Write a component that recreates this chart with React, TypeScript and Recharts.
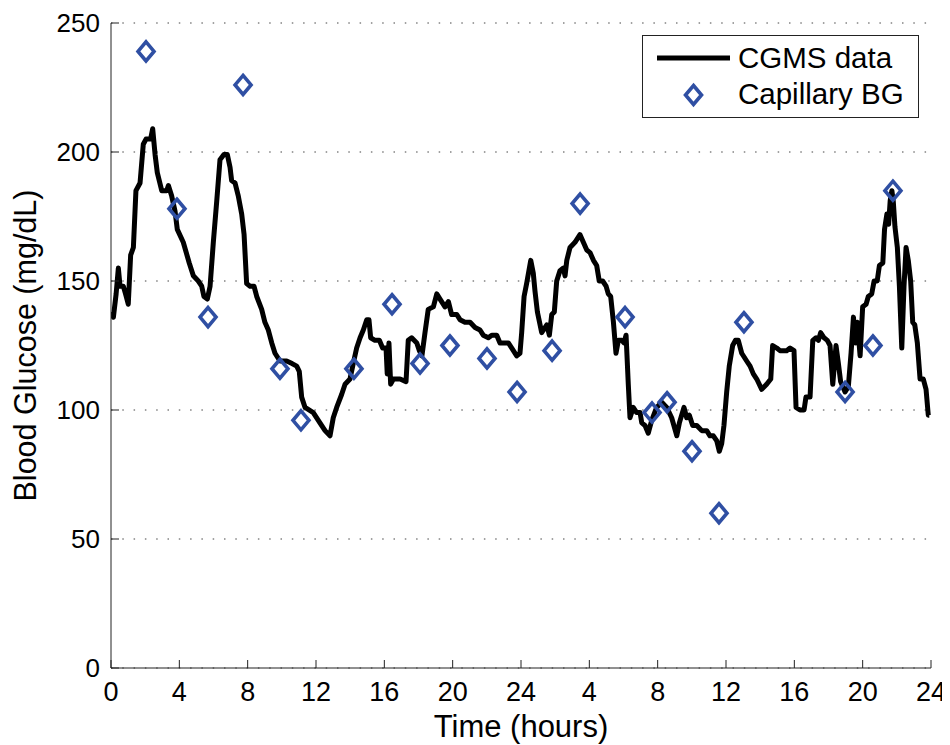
import React from 'react';
import { ComposedChart, Line, Scatter, XAxis, YAxis, CartesianGrid, Legend } from 'recharts';

const cgmsTime = [
  0.0, 0.14, 0.3, 0.43, 0.53, 0.72, 0.85, 1.01, 1.15, 1.31, 1.46, 1.7, 1.89, 2.05, 2.32, 2.44, 2.58, 2.71, 2.97, 3.26,
  3.36, 3.55, 3.75, 3.88, 4.23, 4.58, 4.82, 5.11, 5.31, 5.44, 5.64, 5.8, 5.99, 6.19, 6.38, 6.61, 6.81, 6.97, 7.06, 7.26,
  7.45, 7.65, 7.79, 7.94, 8.14, 8.37, 8.53, 8.82, 9.01, 9.21, 9.41, 9.6, 9.89, 10.28, 10.6, 10.87, 11.02, 11.16, 11.36, 11.84,
  12.23, 12.53, 12.82, 13.01, 13.21, 13.5, 13.7, 13.99, 14.18, 14.38, 14.58, 14.77, 14.97, 15.1, 15.2, 15.45, 15.71, 15.9, 16.1, 16.17,
  16.27, 16.37, 16.53, 16.92, 17.27, 17.4, 17.6, 17.9, 18.05, 18.2, 18.38, 18.57, 18.87, 19.07, 19.26, 19.55, 19.75, 19.94, 20.24, 20.43,
  20.72, 21.02, 21.31, 21.6, 21.79, 22.09, 22.29, 22.58, 22.77, 23.06, 23.26, 23.46, 23.75, 23.94, 24.04, 24.18, 24.33, 24.57, 24.72, 24.82,
  24.96, 25.21, 25.51, 25.66, 25.8, 25.95, 26.09, 26.28, 26.48, 26.58, 26.68, 26.87, 27.16, 27.45, 27.65, 27.85, 28.04, 28.24, 28.43, 28.58,
  28.78, 28.98, 29.11, 29.25, 29.41, 29.56, 29.7, 29.9, 30.03, 30.15, 30.28, 30.38, 30.57, 30.77, 30.97, 31.07, 31.26, 31.45, 31.65, 31.94,
  32.24, 32.53, 32.82, 33.12, 33.27, 33.54, 33.7, 33.85, 34.05, 34.29, 34.58, 34.87, 35.06, 35.26, 35.46, 35.61, 35.75, 35.88, 36.04, 36.19,
  36.39, 36.55, 36.72, 36.92, 37.21, 37.41, 37.6, 37.8, 38.09, 38.38, 38.62, 38.73, 38.97, 39.16, 39.55, 39.75, 39.98, 40.1, 40.33, 40.57,
  40.68, 40.92, 41.08, 41.27, 41.41, 41.54, 41.74, 41.93, 42.09, 42.25, 42.44, 42.58, 42.71, 42.97, 43.16, 43.32, 43.46, 43.6, 43.69, 43.85,
  44.0, 44.2, 44.33, 44.53, 44.67, 44.85, 44.98, 45.18, 45.28, 45.42, 45.52, 45.61, 45.71, 45.79, 45.89, 46.03, 46.15, 46.29, 46.42, 46.54,
  46.67, 46.81, 46.93, 47.05, 47.2, 47.36, 47.55, 47.71, 47.84, 47.9,
];

const cgmsGlucose = [
  138, 136, 145, 155, 148, 148, 145, 141, 160, 163, 185, 188, 203, 205, 205, 209, 199, 192, 185, 185,
  187, 183, 177, 170, 165, 157, 152, 150, 148, 144, 143, 148, 165, 181, 197, 199, 199, 194, 189, 188,
  183, 176, 168, 149, 148, 148, 144, 139, 134, 131, 126, 122, 119, 119, 118, 117, 115, 105, 101, 99,
  95, 92, 90, 97, 101, 106, 110, 112, 118, 124, 128, 131, 135, 135, 128, 127, 127, 124, 124, 114,
  126, 110, 112, 112, 111, 127, 128, 126, 123, 121, 130, 139, 140, 145, 143, 140, 142, 137, 137, 135,
  134, 134, 132, 131, 129, 128, 129, 129, 126, 126, 126, 124, 121, 122, 130, 144, 149, 158, 153, 146,
  138, 130, 133, 129, 137, 138, 150, 154, 155, 152, 158, 163, 165, 168, 165, 162, 161, 158, 156, 150,
  150, 148, 145, 144, 134, 122, 127, 127, 126, 129, 110, 97, 101, 99, 99, 95, 94, 91, 96, 101,
  103, 101, 97, 90, 95, 101, 97, 98, 94, 94, 92, 92, 90, 90, 88, 84, 87, 94, 107, 117,
  125, 127, 127, 122, 119, 117, 114, 112, 108, 110, 112, 125, 124, 123, 123, 124, 123, 101, 100, 100,
  105, 105, 127, 128, 127, 130, 128, 127, 125, 110, 125, 118, 111, 107, 109, 122, 136, 126, 134, 121,
  140, 141, 144, 145, 150, 150, 156, 157, 170, 176, 172, 181, 185, 181, 171, 163, 148, 124, 148, 163,
  158, 150, 134, 133, 126, 112, 112, 108, 98, 98,
];

const bgTime = [
  2.05, 3.86, 5.68, 7.73, 9.89, 11.12, 14.22, 16.45, 18.09, 19.84, 22.01, 23.77,
  25.82, 27.46, 30.09, 31.67, 32.55, 34.01, 35.59, 37.05, 42.97, 44.6, 45.77,
];
const bgGlucose = [
  239, 178, 136, 226, 116, 96, 116, 141, 118, 125, 120, 107,
  123, 180, 136, 99, 103, 84, 60, 134, 107, 125, 185,
];

const xTicks = [0, 4, 8, 12, 16, 20, 24, 28, 32, 36, 40, 44, 48];
const yTicks = [0, 50, 100, 150, 200, 250];

const cgmsData = cgmsTime.map((h, i) => ({ h, v: cgmsGlucose[i] }));
const bgData = bgTime.map((h, i) => ({ h, v: bgGlucose[i] }));

const FONT = '"Liberation Sans", Arial, Helvetica, sans-serif';
const BLUE = '#2F4FA3';

const formatHour = (v: number) => String(v > 24 ? v - 24 : v);

const Diamond = (props: any) => {
  const { cx, cy } = props;
  if (cx == null || cy == null) return null;
  return (
    <path
      d={`M${cx},${cy - 9.5} L${cx + 8},${cy} L${cx},${cy + 9.5} L${cx - 8},${cy} Z`}
      fill="none"
      stroke={BLUE}
      strokeWidth={3.6}
      strokeLinejoin="miter"
    />
  );
};

const LegendBox = () => (
  <svg width={278} height={84} style={{ display: 'block' }}>
    <rect x={0.5} y={0.5} width={276} height={82} fill="#fff" stroke="#222" strokeWidth={1} />
    <line x1={15} y1={23} x2={88} y2={23} stroke="#000" strokeWidth={5} />
    <text x={96} y={33} fontFamily={FONT} fontSize={29.5} fill="#000">CGMS data</text>
    <path d="M51.5,50.5 L59.5,60 L51.5,69.5 L43.5,60 Z" fill="none" stroke={BLUE} strokeWidth={3.6} />
    <text x={96} y={69} fontFamily={FONT} fontSize={29.5} fill="#000">Capillary BG</text>
  </svg>
);

const YLabel = (props: any) => {
  const { viewBox } = props;
  const x = viewBox.x + 17;
  const y = viewBox.y + viewBox.height / 2;
  return (
    <text
      x={x}
      y={y}
      transform={`rotate(-90, ${x}, ${y})`}
      textAnchor="middle"
      dominantBaseline="central"
      fontFamily={FONT}
      fontSize={30.5}
      fill="#000"
    >
      Blood Glucose (mg/dL)
    </text>
  );
};

const XLabel = (props: any) => {
  const { viewBox } = props;
  const x = viewBox.x + viewBox.width / 2;
  const y = viewBox.y + 58;
  return (
    <text x={x} y={y} textAnchor="middle" dominantBaseline="central" fontFamily={FONT} fontSize={31} fill="#000">
      Time (hours)
    </text>
  );
};

export default function App() {
  return (
    <div style={{ width: 942, height: 737, background: '#fff' }}>
      <ComposedChart width={942} height={737} margin={{ top: 15, right: 19, bottom: 2, left: 0 }}>
        <CartesianGrid vertical={false} stroke="#444" strokeDasharray="1.5 9.8" />
        <XAxis
          dataKey="h"
          type="number"
          domain={[0, 48]}
          ticks={xTicks}
          tickFormatter={formatHour}
          interval={0}
          height={75}
          allowDataOverflow
          stroke="#222"
          tickSize={-8}
          tickMargin={22}
          tick={{ fill: '#000', fontSize: 27, fontFamily: FONT }}
          label={<XLabel />}
        />
        <XAxis
          xAxisId="top"
          orientation="top"
          type="number"
          domain={[0, 48]}
          ticks={xTicks}
          height={0}
          stroke="#222"
          tickSize={-8}
          tick={false}
        />
        <YAxis
          type="number"
          domain={[0, 250]}
          ticks={yTicks}
          interval={0}
          width={103}
          allowDataOverflow
          stroke="#222"
          tickSize={-8}
          tickMargin={19}
          tick={{ fill: '#000', fontSize: 26, fontFamily: FONT }}
          label={<YLabel />}
        />
        <YAxis
          yAxisId="right"
          orientation="right"
          type="number"
          domain={[0, 250]}
          ticks={yTicks}
          width={0}
          stroke="#222"
          tickSize={-8}
          tick={false}
        />
        <Line
          data={cgmsData}
          dataKey="v"
          type="linear"
          stroke="#000"
          strokeWidth={5}
          strokeLinejoin="round"
          dot={false}
          activeDot={false}
          isAnimationActive={false}
          name="CGMS data"
        />
        <Scatter
          data={bgData}
          dataKey="v"
          shape={<Diamond />}
          isAnimationActive={false}
          name="Capillary BG"
        />
        <Legend
          layout="vertical"
          align="center"
          verticalAlign="middle"
          content={<LegendBox />}
          wrapperStyle={{ position: 'absolute', left: 634, top: 27, width: 278, height: 84, margin: 0 }}
        />
      </ComposedChart>
    </div>
  );
}
